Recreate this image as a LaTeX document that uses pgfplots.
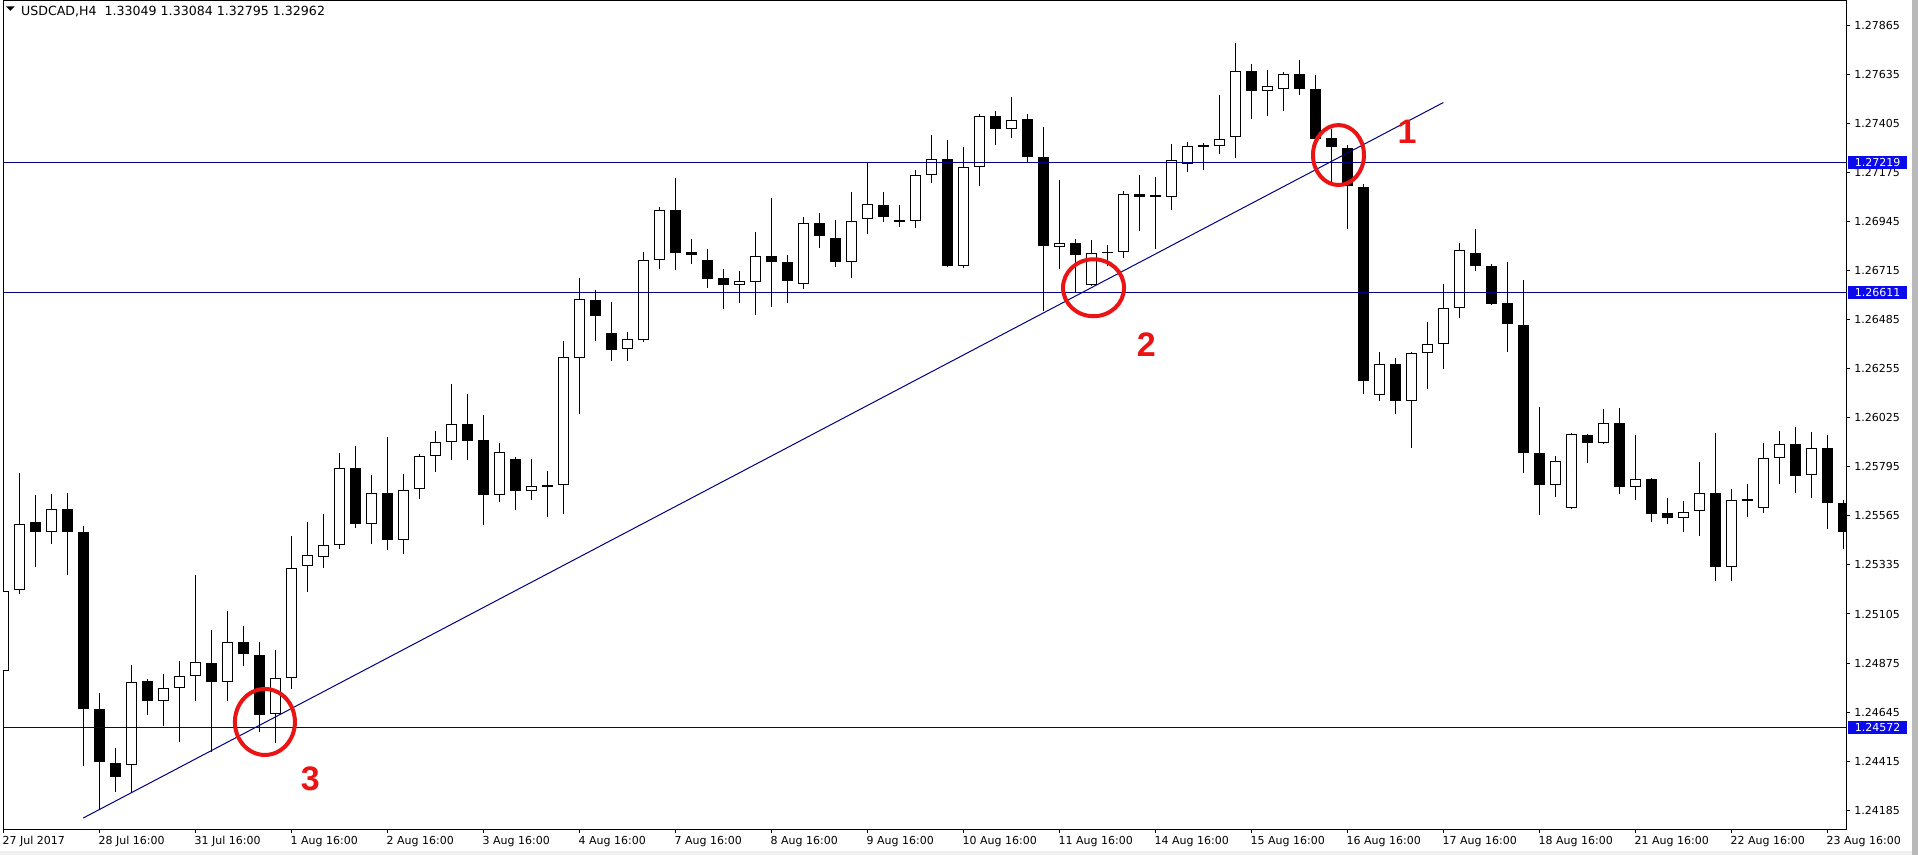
\documentclass[border=0pt]{standalone}
\usepackage{pgfplots}
\pgfplotsset{compat=1.18}
\usepackage{pgfplotstable}
\usepackage{fontspec}
\setmainfont{DejaVu Sans}
\newfontfamily\arialfont{Liberation Sans}
\definecolor{mtnavy}{RGB}{0,0,128}
\definecolor{mtblue}{RGB}{10,10,235}
\definecolor{mkred}{RGB}{235,20,20}
\newcommand\tl{\fontsize{5.5}{6.6}\selectfont}

\pgfplotstableread{
x o h l c
0 1.24840 1.25458 1.24737 1.25215
1 1.25215 1.25765 1.25202 1.25524
3 1.25491 1.25668 1.25435 1.25596
8 1.24400 1.24865 1.24270 1.24789
10 1.24699 1.24824 1.24579 1.24758
11 1.24758 1.24886 1.24507 1.24814
12 1.24814 1.25287 1.24699 1.24878
14 1.24786 1.25121 1.24699 1.24975
17 1.24635 1.24937 1.24502 1.24804
18 1.24804 1.25471 1.24755 1.25323
19 1.25330 1.25537 1.25210 1.25384
20 1.25374 1.25573 1.25320 1.25430
21 1.25430 1.25862 1.25410 1.25790
23 1.25530 1.25757 1.25433 1.25675
25 1.25453 1.25762 1.25389 1.25688
26 1.25691 1.25854 1.25645 1.25844
27 1.25846 1.25964 1.25772 1.25910
28 1.25910 1.26184 1.25829 1.25995
31 1.25665 1.25908 1.25632 1.25864
33 1.25683 1.25831 1.25637 1.25706
34 1.25706 1.25777 1.25560 1.25709
35 1.25711 1.26386 1.25573 1.26309
36 1.26306 1.26679 1.26041 1.26582
39 1.26345 1.26429 1.26293 1.26393
40 1.26388 1.26802 1.26378 1.26766
41 1.26766 1.27012 1.26723 1.26999
46 1.26649 1.26713 1.26562 1.26664
47 1.26664 1.26897 1.26506 1.26784
50 1.26654 1.26966 1.26628 1.26940
53 1.26754 1.27086 1.26679 1.26950
54 1.26955 1.27218 1.26889 1.27025
57 1.26948 1.27185 1.26915 1.27163
58 1.27163 1.27349 1.27127 1.27237
60 1.26736 1.27293 1.26728 1.27201
61 1.27201 1.27451 1.27111 1.27438
63 1.27380 1.27528 1.27336 1.27418
66 1.26825 1.27139 1.26723 1.26846
68 1.26649 1.26858 1.26644 1.26797
69 1.26800 1.26833 1.26738 1.26802
70 1.26802 1.27088 1.26774 1.27075
73 1.27060 1.27310 1.27001 1.27234
74 1.27214 1.27318 1.27175 1.27301
76 1.27298 1.27538 1.27262 1.27334
77 1.27339 1.27784 1.27244 1.27651
79 1.27559 1.27656 1.27441 1.27579
80 1.27566 1.27648 1.27462 1.27635
86 1.26133 1.26335 1.26105 1.26276
88 1.26105 1.26332 1.25885 1.26327
89 1.26327 1.26473 1.26161 1.26373
90 1.26373 1.26654 1.26255 1.26541
91 1.26541 1.26843 1.26493 1.26812
97 1.25711 1.25846 1.25657 1.25821
98 1.25601 1.25954 1.25596 1.25949
100 1.25908 1.26066 1.25900 1.26002
102 1.25703 1.25944 1.25642 1.25737
105 1.25555 1.25632 1.25491 1.25586
106 1.25591 1.25818 1.25473 1.25675
108 1.25325 1.25693 1.25261 1.25642
110 1.25601 1.25908 1.25576 1.25839
111 1.25839 1.25964 1.25714 1.25905
113 1.25755 1.25956 1.25650 1.25882
}\bull

\pgfplotstableread{
x o h l c
2 1.25535 1.25662 1.25325 1.25491
4 1.25596 1.25673 1.25289 1.25489
5 1.25489 1.25517 1.24392 1.24661
6 1.24661 1.24737 1.24188 1.24410
7 1.24410 1.24477 1.24270 1.24344
9 1.24789 1.24801 1.24630 1.24699
13 1.24878 1.25031 1.24461 1.24789
15 1.24975 1.25049 1.24860 1.24916
16 1.24916 1.24975 1.24553 1.24635
22 1.25790 1.25893 1.25509 1.25530
24 1.25675 1.25933 1.25407 1.25453
29 1.25995 1.26135 1.25829 1.25918
30 1.25921 1.26038 1.25524 1.25665
32 1.25831 1.25841 1.25591 1.25680
37 1.26577 1.26623 1.26386 1.26501
38 1.26421 1.26570 1.26293 1.26345
42 1.26999 1.27147 1.26720 1.26800
43 1.26802 1.26864 1.26749 1.26787
44 1.26766 1.26815 1.26636 1.26674
45 1.26679 1.26723 1.26534 1.26649
48 1.26784 1.27055 1.26544 1.26756
49 1.26754 1.26787 1.26562 1.26664
51 1.26940 1.26986 1.26823 1.26876
52 1.26871 1.26953 1.26731 1.26754
55 1.27025 1.27086 1.26945 1.26966
56 1.26950 1.27022 1.26920 1.26948
59 1.27237 1.27326 1.26731 1.26736
62 1.27438 1.27464 1.27305 1.27380
64 1.27426 1.27451 1.27221 1.27247
65 1.27247 1.27387 1.26524 1.26830
67 1.26843 1.26864 1.26611 1.26790
71 1.27073 1.27163 1.26902 1.27060
72 1.27068 1.27152 1.26817 1.27065
75 1.27303 1.27313 1.27185 1.27298
78 1.27651 1.27681 1.27426 1.27556
81 1.27635 1.27702 1.27538 1.27566
82 1.27566 1.27633 1.27329 1.27334
83 1.27336 1.27377 1.27111 1.27296
84 1.27288 1.27305 1.26910 1.27111
85 1.27106 1.27122 1.26138 1.26197
87 1.26276 1.26304 1.26043 1.26105
92 1.26800 1.26910 1.26713 1.26736
93 1.26736 1.26746 1.26552 1.26560
94 1.26565 1.26756 1.26335 1.26465
95 1.26462 1.26674 1.25767 1.25859
96 1.25862 1.26074 1.25568 1.25711
99 1.25946 1.25950 1.25816 1.25908
101 1.26002 1.26071 1.25670 1.25703
103 1.25737 1.25744 1.25535 1.25576
104 1.25578 1.25650 1.25530 1.25555
107 1.25675 1.25954 1.25259 1.25325
109 1.25645 1.25714 1.25560 1.25634
112 1.25905 1.25982 1.25670 1.25755
114 1.25882 1.25944 1.25504 1.25627
115 1.25627 1.25640 1.25410 1.25491
}\bear

\pgfplotsset{
  wick/.style={only marks, mark=*, mark size=0pt, mark options={draw=none, fill=none},
    error bars/.cd, y dir=both, y explicit, error mark=none,
    error bar style={draw=black, line width=0.5pt}},
  body/.style={only marks, mark=*, mark size=0pt, mark options={draw=none, fill=none},
    error bars/.cd, y dir=both, y explicit, error mark=none,
    error bar style={#1}},
}

\begin{document}
\begin{tikzpicture}
\path[use as bounding box, fill=white] (0,0) rectangle (959pt,427.5pt);
\fill[gray!12] (0,0) rectangle (959pt,2pt);
\fill[gray!55] (955.8pt,0) rectangle (959pt,427.5pt);
\begin{axis}[
  at={(1.5pt,427pt)}, anchor=north west, scale only axis,
  width=921.5pt, height=414.15pt,
  xmin=-0.02, xmax=115.17, ymin=1.24096, ymax=1.27978,
  axis line style={black, line width=0.5pt},
  tick style={black, line width=0.5pt},
  major tick length=1.75pt, tick align=outside,
  xtick pos=left, ytick pos=right, yticklabel pos=right,
  xtick={0,6,...,114},
  xticklabels={27 Jul 2017, 28 Jul 16:00, 31 Jul 16:00, 1 Aug 16:00, 2 Aug 16:00, 3 Aug 16:00, 4 Aug 16:00, 7 Aug 16:00, 8 Aug 16:00, 9 Aug 16:00, 10 Aug 16:00, 11 Aug 16:00, 14 Aug 16:00, 15 Aug 16:00, 16 Aug 16:00, 17 Aug 16:00, 18 Aug 16:00, 21 Aug 16:00, 22 Aug 16:00, 23 Aug 16:00},
  ytick={1.24185,1.24415,1.24645,1.24875,1.25105,1.25335,1.25565,1.25795,1.26025,1.26255,1.26485,1.26715,1.26945,1.27175,1.27405,1.27635,1.27865},
  yticklabels={1.24185,1.24415,1.24645,1.24875,1.25105,1.25335,1.25565,1.25795,1.26025,1.26255,1.26485,1.26715,1.26945,1.27175,1.27405,1.27635,1.27865},
  tick label style={font=\tl},
  xticklabel style={anchor=north west, inner sep=0pt, xshift=-0.5pt, yshift=-1.5pt},
  yticklabel style={anchor=west, inner sep=0pt, xshift=2.25pt},
  /pgf/number format/assume math mode=true,
]
% wicks
\addplot[wick] table[x=x, y expr={(\thisrow{h}+\thisrow{l})/2}, y error expr={(\thisrow{h}-\thisrow{l})/2}] {\bull};
\addplot[wick] table[x=x, y expr={(\thisrow{h}+\thisrow{l})/2}, y error expr={(\thisrow{h}-\thisrow{l})/2}] {\bear};
% bodies
\addplot[body={draw=black, line width=5.4pt}] table[x=x, y expr={(\thisrow{o}+\thisrow{c})/2}, y error expr={max(abs(\thisrow{c}-\thisrow{o})/2,0.0000235)}] {\bear};
\addplot[body={draw=black, line width=5.4pt}] table[x=x, y expr={(\thisrow{o}+\thisrow{c})/2}, y error expr={max(abs(\thisrow{c}-\thisrow{o})/2,0.0000235)}] {\bull};
\addplot[body={draw=white, line width=4.4pt}] table[x=x, y expr={(\thisrow{o}+\thisrow{c})/2}, y error expr={max(abs(\thisrow{c}-\thisrow{o})/2-0.0000469,0)}] {\bull};
% horizontal levels
\addplot[mtnavy, line width=0.5pt] coordinates {(-1,1.27219) (117,1.27219)};
\addplot[mtnavy, line width=0.5pt] coordinates {(-1,1.26611) (117,1.26611)};
\addplot[mtnavy, line width=0.5pt] coordinates {(-1,1.24572) (117,1.24572)};
% trend line
\addplot[mtnavy, line width=0.5pt] coordinates {(5,1.24149) (90,1.27502)};
% annotations
\draw[mkred, line width=2pt] (axis cs:83.45,1.27256) ellipse [x radius=12.75pt, y radius=15pt];
\draw[mkred, line width=2pt] (axis cs:68.14,1.26634) ellipse [x radius=15.25pt, y radius=14.25pt];
\draw[mkred, line width=2pt] (axis cs:16.35,1.24599) ellipse [x radius=15pt, y radius=16.5pt];
\node[text=mkred, font=\arialfont\bfseries\fontsize{17}{18}\selectfont, inner sep=0pt] at (axis cs:87.73,1.27366) {1};
\node[text=mkred, font=\arialfont\bfseries\fontsize{17}{18}\selectfont, inner sep=0pt] at (axis cs:71.44,1.26366) {2};
\node[text=mkred, font=\arialfont\bfseries\fontsize{17}{18}\selectfont, inner sep=0pt] at (axis cs:19.19,1.24331) {3};
\coordinate (L1) at (axis cs:115.17,1.27219);
\coordinate (L2) at (axis cs:115.17,1.26611);
\coordinate (L3) at (axis cs:115.17,1.24572);
\end{axis}
\foreach \n/\v in {L1/1.27219, L2/1.26611, L3/1.24572}
  \node[fill=mtblue, text=white, font=\tl, anchor=west, inner xsep=3.2pt, inner ysep=0pt, minimum height=6.5pt] at ([xshift=1pt]\n) {\v};
\fill[black] (3pt,424.3pt) -- (7.35pt,424.3pt) -- (5.17pt,422.1pt) -- cycle;
\node[anchor=base west, inner sep=0pt, font=\fontsize{6.3}{7.5}\selectfont] at (10.35pt,419.8pt) {USDCAD,H4\ \ 1.33049 1.33084 1.32795 1.32962};
\end{tikzpicture}
\end{document}
